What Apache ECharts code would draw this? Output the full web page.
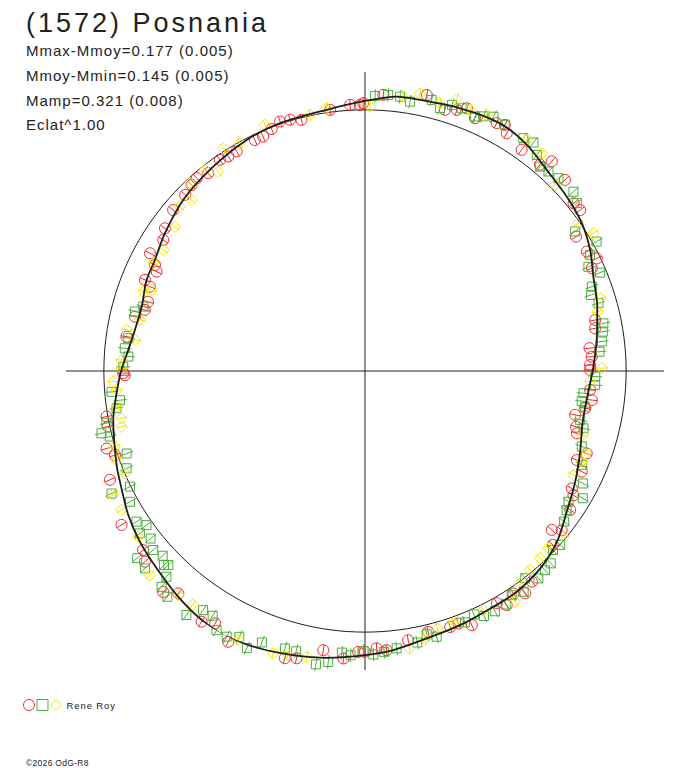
<!DOCTYPE html>
<html>
<head>
<meta charset="utf-8">
<script src="https://cdn.jsdelivr.net/npm/echarts@6/dist/echarts.min.js"></script>
<style>
  html, body { margin: 0; padding: 0; background: #fff; }
  #chart { width: 688px; height: 768px; }
  #chart text[style*="27px"] { letter-spacing: 3px; }
  #chart text[style*="15px"] { letter-spacing: 1px; }
  #chart text[style*="9.5px"] { letter-spacing: 0.9px; }
  #chart text[style*="8.5px"] { letter-spacing: 0.3px; }
</style>
</head>
<body>
<div id="chart"></div>
<script>
// ---- texts ----
const titleText = '(1572) Posnania';
const statLines = ['Mmax-Mmoy=0.177 (0.005)', 'Mmoy-Mmin=0.145 (0.005)', 'Mamp=0.321 (0.008)', 'Eclat^1.00'];
const observer = 'Rene Roy';
const footerText = '©2026 OdG-R8';
const seriesNames = ['Rene Roy (1)', 'Rene Roy (2)', 'Rene Roy (3)'];

// ---- axes ----
const meanFlux = 1;          // reference circle (mean brightness)
const fluxMax = 1.145;       // radial extent of the cross-hair
const angleStep = 90;        // cross-hair

// ---- data: [position angle (deg), relative brightness] ----
const fitCurve = [
  [0,0.872],[7.6,0.895],[15.5,0.923],[22.4,0.946],[28.3,0.979],[34.3,1.005],[40.8,1.021],[47.9,1.038],
  [54.4,1.065],[61.4,1.080],[70.1,1.070],[80.6,1.059],[83.4,1.058],[90,1.034],[98.3,1.011],[108.9,1.003],
  [117.1,0.994],[127.1,0.974],[136.7,0.956],[145.5,0.930],[152.1,0.910],[157.4,0.906],[163.9,0.890],
  [169.9,0.895],[174.9,0.910],[180,0.934],[185.1,0.955],[191,0.982],[200.7,1.017],[205.7,1.035],
  [211.3,1.061],[217.2,1.082],[223.5,1.099],[230.1,1.121],[236.3,1.139],[242.5,1.148],[249.3,1.136],
  [255.8,1.122],[262.4,1.108],[270,1.088],[275.8,1.074],[283,1.051],[290.5,1.039],[298.6,1.028],
  [304.5,1.026],[311.6,1.011],[318.3,0.984],[325.1,0.942],[332.2,0.910],[339.4,0.880],[346.9,0.856],
  [354.7,0.859],[360,0.872]
];

const redPts = [
  [93.2,1.021],[91.1,1.019],[97.6,1.009],[104.2,0.992],[106.6,1.004],[108.8,1.009],[111.1,0.993],
  [113.5,0.979],[115.5,0.980],[120.3,0.974],[122.5,0.974],[124.5,0.981],[128.4,0.967],[131.1,0.980],
  [133.0,0.974],[135.6,0.964],[140.0,0.959],[144.5,0.941],[147.0,0.921],[151.3,0.939],[153.2,0.901],
  [154.5,0.884],[157.5,0.912],[158.6,0.885],[162.3,0.872],[164.5,0.875],[166.7,0.905],[171.8,0.923],
  [180.5,0.926],
  [90.4,1.026],[86.2,1.060],[77.4,1.083],[73.0,1.046],[70.6,1.060],[68.8,1.079],[66.5,1.056],
  [62.0,1.075],[60.4,1.084],[59.2,1.060],[54.7,1.038],[49.7,1.036],[48.3,1.075],[43.7,1.059],
  [38.8,1.025],[36.8,1.029],[32.5,0.958],[28.3,0.965],[25.9,0.987],[24.4,0.954],[12.5,0.903],
  [10.5,0.896],[5.8,0.864],[3.6,0.870],[1.5,0.862],
  [181.0,0.920],[190.0,1.005],[192.2,1.007],[196.7,1.033],[198.6,1.010],[203.1,1.062],[212.3,1.103],
  [218.9,1.092],[220.9,1.115],[227.6,1.146],[230.0,1.112],[236.9,1.146],[239.3,1.124],[243.2,1.162],
  [254.4,1.142],[256.6,1.131],[261.5,1.081],[265.7,1.104],[268.6,1.076],
  [0.3,0.862],[355.2,0.865],[352.7,0.876],[350.4,0.855],[348.2,0.822],[345.2,0.836],[343.6,0.846],
  [339.6,0.906],[337.2,0.880],[335.1,0.915],[330.4,0.911],[329.2,0.929],[325.9,0.949],[319.6,0.939],
  [321.0,0.969],[317.2,0.980],[308.4,1.029],[305.8,1.049],[303.7,1.024],[301.2,1.048],[299.6,1.023],
  [292.8,1.056],[288.4,1.033],[290.3,1.031],[283.6,1.028],[279.1,1.044],[274.4,1.072],[272.4,1.063],
  [270.0,1.075]
];

const greenPts = [
  [163.8,0.884],[165.5,0.910],[172.1,0.915],[174.6,0.924],[176.5,0.908],[179.0,0.926],
  [87.9,1.054],[85.2,1.061],[82.7,1.059],[80.5,1.046],[76.2,1.069],[74.1,1.047],[71.9,1.072],
  [69.8,1.072],[66.6,1.062],[65.1,1.075],[63.2,1.091],[60.4,1.084],[55.8,1.078],[53.6,1.087],
  [51.5,1.057],[49.4,1.031],[47.4,1.038],[44.9,1.046],[40.7,1.053],[38.4,1.035],[33.6,0.966],
  [29.2,1.016],[27.3,0.970],[25.0,0.944],[22.7,0.976],[20.4,0.927],[18.6,0.913],[16.2,0.931],
  [11.3,0.931],[9.4,0.923],[7.1,0.914],[4.7,0.901],
  [184.7,0.974],[186.8,0.945],[188.5,0.962],[191.4,1.010],[193.3,1.037],[194.4,1.009],[199.1,0.966],
  [202.2,0.986],[206.2,1.003],[205.8,1.078],[209.1,1.030],[213.4,1.048],[215.2,1.024],[215.8,1.063],
  [218.0,1.042],[220.2,1.062],[219.4,1.129],[221.9,1.132],[222.4,1.049],[224.0,1.070],[224.6,1.058],
  [226.0,1.095],[226.7,1.136],[228.8,1.149],[233.8,1.158],[235.9,1.106],[238.1,1.104],[240.2,1.144],
  [242.5,1.147],[244.7,1.126],[246.9,1.153],[249.2,1.112],[253.9,1.106],[256.2,1.105],[260.5,1.139],
  [262.8,1.123],[265.3,1.082],[267.1,1.090],
  [358.6,0.882],[356.5,0.883],[354.2,0.841],[352.1,0.838],[350.8,0.854],[347.2,0.845],[345.3,0.865],
  [340.8,0.879],[336.6,0.905],[332.7,0.939],[329.7,0.966],[327.3,0.926],[325.4,0.938],[322.9,0.956],
  [318.3,1.001],[316.4,0.994],[314.0,1.024],[312.1,1.028],[309.9,1.035],[307.7,1.003],[305.7,1.041],
  [303.2,1.026],[301.1,1.044],[298.4,1.046],[295.9,1.043],[294.1,1.021],[291.7,1.036],[285.1,1.054],
  [283.2,1.036],[280.9,1.059],[276.5,1.069],[273.9,1.078],[271.7,1.086],[269.7,1.073]
];

const yellowPts = [
  [88.9,1.013],[98.3,1.017],[102.1,1.003],[112.1,1.017],[118.8,0.995],[122.5,1.011],[126.4,0.948],
  [128.5,0.984],[133.0,0.983],[135.4,0.933],[138.4,0.948],[142.8,0.914],[149.0,0.901],[153.0,0.910],
  [159.2,0.874],[160.3,0.902],[167.2,0.884],[170.2,0.926],[172.3,0.889],[177.4,0.933],
  [82.1,1.061],[78.8,1.082],[74.4,1.065],[71.4,1.098],[68.1,1.078],[64.6,1.086],[55.0,1.080],
  [50.9,1.074],[44.4,1.019],[34.7,0.994],[31.1,1.021],[17.2,0.943],[14.3,0.919],[0.7,0.907],
  [179.4,0.932],[182.4,0.965],[184.4,0.954],[188.2,0.961],[191.0,0.950],[192.9,0.956],[196.8,1.001],
  [199.7,1.011],[203.1,1.000],[206.2,1.075],[209.7,1.074],[216.2,1.076],[223.5,1.136],[230.2,1.117],
  [233.6,1.113],[244.8,1.139],[252.0,1.137],[254.8,1.125],[258.5,1.117],
  [357.3,0.863],[343.6,0.869],[339.5,0.900],[337.3,0.900],[333.5,0.892],[320.1,0.990],[316.0,0.977],
  [313.1,0.982],[309.7,0.990],[306.1,1.007],[303.0,1.054],[296.3,1.022],[289.3,1.024],[285.7,1.024],
  [282.6,1.052],[279.1,1.076]
];

// error half-widths (relative brightness)
const errRed = 0.021, errGreen = 0.026, errYellow = 0.021;

// ---- styles ----
const RED = '#f02828', GREEN = '#4cae3c', YELLOW = '#f5e400', INK = '#1e1e1e';

function toPolar(pts) { return pts.map(p => [p[1], p[0]]); } // [radius, angle]

function markerRenderer(kind, color, err) {
  return function (params, api) {
    const f = api.value(0), a = api.value(1);
    const c = api.coord([f, a]);
    const lo = api.coord([f - err, a]);
    const hi = api.coord([f + err, a]);
    const st = { fill: 'none', stroke: color, lineWidth: 1 };
    let mark;
    if (kind === 'circle') {
      mark = { type: 'circle', shape: { cx: c[0], cy: c[1], r: 5.5 }, style: st };
    } else if (kind === 'square') {
      mark = { type: 'rect', shape: { x: c[0] - 4.5, y: c[1] - 4.5, width: 9, height: 9 }, style: st };
    } else {
      mark = { type: 'polygon', shape: { points: [[c[0], c[1] - 5.8], [c[0] + 5.8, c[1]], [c[0], c[1] + 5.8], [c[0] - 5.8, c[1]]] }, style: st };
    }
    return {
      type: 'group',
      children: [
        { type: 'line', shape: { x1: lo[0], y1: lo[1], x2: hi[0], y2: hi[1] }, style: { stroke: color, lineWidth: 1 } },
        mark
      ]
    };
  };
}

const chart = echarts.init(document.getElementById('chart'), null, { renderer: 'svg' });
const FONT = 'Liberation Sans, Arial, sans-serif';

chart.setOption({
  animation: false,
  backgroundColor: '#ffffff',
  title: [
    {
      text: titleText,
      subtext: statLines.join('\n'),
      left: 26, top: 9, padding: 0, itemGap: 2.5,
      textStyle: { fontFamily: FONT, fontSize: 27, fontWeight: 'normal', color: '#222' },
      subtextStyle: { fontFamily: FONT, fontSize: 15, color: '#222', lineHeight: 24.7 }
    },
    {
      text: footerText,
      left: 26, top: 758, padding: 0,
      textStyle: { fontFamily: FONT, fontSize: 8.5, fontWeight: 'normal', color: '#222' }
    }
  ],
  legend: {
    left: 23, top: 699, padding: 0, orient: 'horizontal',
    itemWidth: 11, itemHeight: 11, itemGap: 1.5, selectedMode: false,
    data: [
      { name: seriesNames[0], icon: 'circle', itemStyle: { color: 'rgba(0,0,0,0)', borderColor: RED, borderWidth: 1 } },
      { name: seriesNames[1], icon: 'rect', itemStyle: { color: 'rgba(0,0,0,0)', borderColor: GREEN, borderWidth: 1 } },
      { name: seriesNames[2], icon: 'diamond', itemStyle: { color: 'rgba(0,0,0,0)', borderColor: YELLOW, borderWidth: 1 } }
    ],
    formatter: n => (n === seriesNames[2] ? observer : ''),
    textStyle: { fontFamily: FONT, fontSize: 9.5, color: '#222' }
  },
  polar: { center: [365, 371], radius: 299 },
  angleAxis: {
    type: 'value', min: 0, max: 360, interval: angleStep, startAngle: 0, clockwise: false,
    axisLine: { show: false }, axisTick: { show: false }, axisLabel: { show: false },
    splitLine: { show: true, lineStyle: { color: INK, width: 1 } }
  },
  radiusAxis: {
    type: 'value', min: 0, max: fluxMax, interval: meanFlux,
    axisLine: { show: false }, axisTick: { show: false }, axisLabel: { show: false },
    splitLine: { show: true, lineStyle: { color: ['rgba(0,0,0,0)', INK, 'rgba(0,0,0,0)'], width: 1 } }
  },
  series: [
    { name: seriesNames[0], type: 'custom', coordinateSystem: 'polar', data: toPolar(redPts),
      renderItem: markerRenderer('circle', RED, errRed), itemStyle: { color: RED }, z: 2, silent: true },
    { name: seriesNames[1], type: 'custom', coordinateSystem: 'polar', data: toPolar(greenPts),
      renderItem: markerRenderer('square', GREEN, errGreen), itemStyle: { color: GREEN }, z: 3, silent: true },
    { name: seriesNames[2], type: 'custom', coordinateSystem: 'polar', data: toPolar(yellowPts),
      renderItem: markerRenderer('diamond', YELLOW, errYellow), itemStyle: { color: YELLOW }, z: 4, silent: true },
    { name: 'fit', type: 'line', coordinateSystem: 'polar', data: toPolar(fitCurve),
      smooth: 0.3, showSymbol: false, symbol: 'none', clip: false, silent: true, z: 5,
      lineStyle: { color: INK, width: 1.8 } }
  ]
});
</script>
</body>
</html>
